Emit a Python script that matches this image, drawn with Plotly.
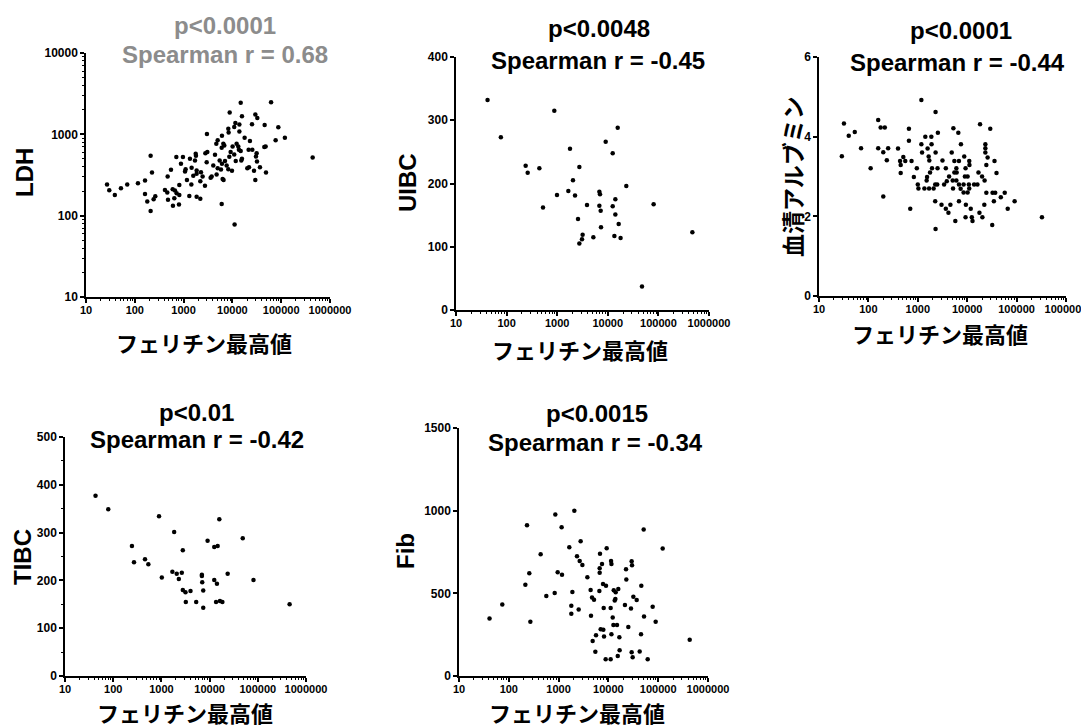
import plotly.graph_objects as go

W, H = 1089, 728
OFF = 8  # default page (body) margin of the html page

# ---------------- data ----------------
ferritin_ldh = [14800, 62000, 8800, 15700, 29500, 32400, 11500, 13900, 25200, 45800,
                8240, 10900, 13900, 87300, 3010, 6110, 8370, 17800, 22900, 76900,
                119000, 4990, 4680, 6520, 6820, 6030, 12200, 13200, 10100, 13600,
                14800, 21500, 25600, 48000, 45100, 31400, 9200, 8650, 10900, 11700,
                15200, 15700, 30400, 31900, 21900, 20200, 27700, 36700, 48800, 29500,
                441000, 211, 710, 970, 1350, 1770, 1790, 2790, 3060, 4400,
                5480, 7050, 6110, 7620, 8240, 9800, 5830, 4990, 4060, 2970,
                1710, 883, 1100, 1070, 1460, 1850, 1580, 1850, 2270, 2450,
                551, 471, 817, 1170, 1440, 2200, 2740, 3760, 3580, 4750,
                6310, 6600, 225, 162, 116, 70, 52, 27, 30, 39,
                162, 263, 243, 180, 211, 415, 463, 597, 665, 720,
                479, 645, 817, 605, 804, 1310, 1850, 2200, 6030, 11100]
ldh = [2440, 2480, 1850, 1670, 1750, 1590, 1380, 1320, 1330, 1300,
       1175, 1230, 1080, 1220, 1010, 960, 1050, 910, 826, 843,
       910, 843, 767, 767, 731, 684, 767, 711, 711, 646,
       622, 646, 646, 711, 697, 587, 605, 530, 566, 469,
       477, 500, 535, 463, 395, 384, 356, 395, 340, 275,
       520, 545, 525, 525, 500, 577, 545, 587, 605, 561,
       477, 469, 434, 414, 373, 356, 370, 384, 414, 455,
       477, 434, 373, 349, 387, 359, 309, 327, 343, 303,
       366, 303, 239, 275, 242, 265, 234, 303, 292, 321,
       283, 275, 340, 270, 251, 242, 217, 242, 206, 180,
       185, 173, 159, 149, 114, 207, 192, 211, 204, 189,
       157, 164, 180, 132, 137, 175, 171, 162, 139, 78]

ferritin_uibc = [42, 77, 877, 238, 261, 444, 524, 990, 1790, 1660,
                 2050, 2250, 2740, 2580, 2740, 3090, 3180, 3880, 5180, 6810,
                 7010, 6810, 7230, 7340, 9080, 12500, 12500, 14100, 14100, 13500,
                 15700, 16400, 17900, 23200, 47400, 80500, 469000]
uibc = [332, 273, 315, 228, 217, 224, 162, 182, 255, 188,
        205, 181, 226, 144, 105, 112, 119, 166, 115, 187,
        183, 165, 157, 131, 266, 248, 164, 175, 151, 117,
        288, 136, 114, 196, 37, 167, 123]

ferritin_alb = [1180, 2290, 32, 158, 177, 215, 53, 40, 661, 5250,
                6610, 18200, 29300, 2550, 1420, 1880, 661, 1180, 1900, 7470,
                23300, 23300, 23300, 25900, 35700, 24400, 39200, 29, 71, 158,
                200, 251, 236, 111, 398, 509, 437, 558, 747, 450,
                450, 200, 703, 1220, 1580, 1660, 1710, 2290, 955, 832,
                1940, 2510, 1770, 1540, 1510, 1000, 1030, 1360, 1690, 2090,
                2250, 2470, 2250, 3160, 3690, 4300, 4860, 5500, 6810, 8710,
                11000, 11100, 6030, 5500, 6120, 9260, 8980, 10200, 6030, 5090,
                3860, 3410, 6810, 8450, 5170, 7360, 10800, 13800, 16100, 11000,
                8450, 10200, 16900, 20000, 22500, 3020, 3690, 4170, 4570, 6810,
                9400, 11800, 5750, 9260, 12400, 12800, 17700, 20300, 22200, 24400,
                32600, 36900, 34700, 47900, 57500, 66100, 91200, 32100, 2290, 326000]
albumin = [4.92, 4.62, 4.33, 4.42, 4.23, 4.23, 4.12, 4.02, 4.20, 4.21,
           4.10, 4.31, 4.20, 4.10, 4.00, 4.00, 3.90, 3.81, 3.81, 3.81,
           3.81, 3.71, 3.60, 3.48, 3.39, 3.29, 3.09, 3.51, 3.71, 3.71,
           3.61, 3.71, 3.41, 3.21, 3.70, 3.49, 3.39, 3.39, 3.39, 3.29,
           3.09, 2.50, 2.19, 3.60, 3.70, 3.50, 3.40, 3.60, 3.21, 2.99,
           3.21, 3.21, 3.10, 2.99, 2.90, 2.80, 2.70, 2.70, 2.70, 2.70,
           2.80, 2.80, 2.38, 3.40, 3.21, 3.00, 3.60, 3.39, 3.39, 3.50,
           3.39, 3.29, 3.21, 3.10, 3.10, 3.21, 3.00, 3.00, 2.90, 2.90,
           2.88, 2.80, 2.80, 2.80, 2.70, 2.69, 2.80, 2.80, 2.80, 2.70,
           2.60, 2.60, 3.10, 3.00, 2.90, 2.29, 2.19, 2.09, 2.29, 2.38,
           2.29, 2.19, 1.88, 1.98, 1.98, 1.88, 2.09, 1.98, 2.29, 2.59,
           2.59, 2.59, 2.38, 2.48, 2.59, 2.19, 2.38, 1.78, 1.68, 1.98]

ferritin_tibc = [43, 79, 245, 270, 457, 536, 893, 1020, 1840, 1690,
                 2080, 2300, 2650, 2780, 2780, 3160, 3210, 4020, 5270, 6920,
                 6920, 7030, 7380, 7380, 9080, 12500, 14700, 12500, 14200, 13600,
                 15900, 16400, 18400, 23700, 48700, 81300, 457000]
tibc = [377, 349, 272, 238, 244, 234, 334, 206, 301, 218,
        214, 203, 216, 263, 180, 175, 155, 178, 155, 212,
        209, 196, 179, 143, 283, 270, 272, 201, 193, 155,
        328, 157, 155, 214, 288, 201, 150]

ferritin_fib = [2070, 859, 232, 1150, 51100, 2770, 1640, 9230, 123000, 436,
                6780, 2340, 2650, 3000, 11300, 11500, 7450, 6680, 6680, 29300,
                29800, 22600, 22900, 45800, 258, 958, 1170, 3780, 215, 74,
                41, 271, 567, 834, 1890, 1800, 1800, 2530, 4400, 4690,
                5140, 4470, 6580, 7800, 8950, 8040, 11100, 12800, 14000, 15800,
                13800, 13400, 31700, 37000, 21500, 28400, 77400, 51900, 88900, 12200,
                12600, 14900, 25100, 7000, 7910, 5640, 8170, 11500, 16600, 45200,
                4830, 5470, 16800, 15400, 8810, 11100, 29300, 30700, 42500, 61500,
                429000]
fib = [1000, 977, 912, 900, 886, 815, 779, 773, 771, 736,
       739, 724, 696, 672, 696, 678, 678, 651, 625, 694,
       670, 645, 583, 546, 621, 627, 613, 597, 552, 433,
       348, 328, 484, 502, 508, 425, 376, 402, 520, 475,
       461, 364, 514, 557, 546, 411, 411, 518, 506, 526,
       466, 457, 480, 460, 429, 409, 419, 360, 328, 354,
       308, 308, 297, 283, 279, 247, 239, 253, 235, 253,
       211, 146, 156, 121, 101, 101, 144, 113, 148, 101,
       219]

x_tick_vals = [10, 100, 1000, 10000, 100000, 1000000]
x_tick_text = ["10", "100", "1000", "10000", "100000", "1000000"]
ldh_tick_vals = [10, 100, 1000, 10000]
ldh_tick_text = ["10", "100", "1000", "10000"]

x_label = "フェリチン最高値"
y_labels = ["LDH", "UIBC", "血清アルブミン", "TIBC", "Fib"]
p_texts = ["p<0.0001", "p<0.0048", "p<0.0001", "p<0.01", "p<0.0015"]
r_texts = ["Spearman r = 0.68", "Spearman r = -0.45", "Spearman r = -0.44",
           "Spearman r = -0.42", "Spearman r = -0.34"]

# ---------------- layout geometry (screen pixels) ----------------
# plot boxes: x0, x1, ytop, ybottom
boxes = [(86, 330, 53, 297), (456, 709, 57, 310), (819, 1066, 57, 296),
         (65, 306, 437, 676), (459, 708, 428, 676)]
p_pos = [(225, 25), (599, 28), (961, 30), (196, 412), (597, 413)]
r_pos = [(225, 54), (598, 61), (957, 63), (197, 439), (595, 442)]
ylab_pos = [(25, 173), (407, 183), (792, 177), (22, 557), (405, 551)]
xlab_pos = [(204, 342), (580, 349), (940, 333), (185, 712), (577, 712)]
title_colors = ["#8c8c8c", "black", "black", "black", "black"]

FW, FH = W - OFF, H - OFF

def fx(px):
    return (px - OFF) / FW

def fy(py):
    return 1 - (py - OFF) / FH

series = [(ferritin_ldh, ldh), (ferritin_uibc, uibc), (ferritin_alb, albumin),
          (ferritin_tibc, tibc), (ferritin_fib, fib)]

fig = go.Figure()
for i, (xs, ys) in enumerate(series):
    sfx = "" if i == 0 else str(i + 1)
    fig.add_trace(go.Scatter(x=xs, y=ys, mode="markers", xaxis="x" + sfx, yaxis="y" + sfx,
                             marker=dict(color="black", size=4.5, line=dict(width=0)),
                             showlegend=False, hoverinfo="x+y"))

minor_log_x = [m * 10 ** k for k in range(1, 6) for m in range(2, 10)]
minor_log_y = [m * 10 ** k for k in range(1, 4) for m in range(2, 10)]

FONT = "Arial, Liberation Sans, sans-serif"
tick_font_x = dict(family=FONT, size=11, color="black", weight="bold")
tick_font_y = dict(family=FONT, size=12, color="black", weight="bold")

axis_common = dict(showline=True, linecolor="black", linewidth=1.5, ticks="outside",
                   ticklen=4, tickwidth=1.5, tickcolor="black", showgrid=False,
                   zeroline=False, mirror=False, automargin=False)

minor_style = dict(ticks="outside", ticklen=2.5, tickwidth=1, tickcolor="black", showgrid=False)

y_specs = [
    dict(type="log", range=[1, 4], tickmode="array", tickvals=ldh_tick_vals, ticktext=ldh_tick_text,
         minor=dict(minor_style, tickmode="array", tickvals=minor_log_y)),
    dict(type="linear", range=[0, 400], tickmode="linear", tick0=0, dtick=100),
    dict(type="linear", range=[0, 6], tickmode="linear", tick0=0, dtick=2),
    dict(type="linear", range=[0, 500], tickmode="linear", tick0=0, dtick=100,
         minor=dict(minor_style, tick0=0, dtick=50)),
    dict(type="linear", range=[0, 1500], tickmode="linear", tick0=0, dtick=500),
]

layout_axes = {}
for i, (x0, x1, yt, yb) in enumerate(boxes):
    sfx = "" if i == 0 else str(i + 1)
    layout_axes["xaxis" + sfx] = dict(
        axis_common, domain=[fx(x0), fx(x1)], anchor="y" + sfx, type="log", range=[1, 6],
        tickmode="array", tickvals=x_tick_vals, ticktext=x_tick_text, tickfont=tick_font_x,
        ticklabelstandoff=-2,
        minor=dict(minor_style, tickmode="array", tickvals=minor_log_x))
    layout_axes["yaxis" + sfx] = dict(axis_common, domain=[fy(yb), fy(yt)], anchor="x" + sfx,
                                      tickfont=tick_font_y, **y_specs[i])

annotations = []
for i in range(5):
    for txt, (px, py) in ((p_texts[i], p_pos[i]), (r_texts[i], r_pos[i])):
        annotations.append(dict(text="<b>" + txt + "</b>", x=fx(px), y=fy(py), xref="paper", yref="paper",
                                xanchor="center", yanchor="middle", showarrow=False,
                                font=dict(family=FONT, size=24, color=title_colors[i])))
    yl = y_labels[i]
    cjk = any(ord(c) > 0x3000 for c in yl)
    annotations.append(dict(text="<b>" + yl + "</b>", x=fx(ylab_pos[i][0]), y=fy(ylab_pos[i][1]),
                            xref="paper", yref="paper", xanchor="center", yanchor="middle",
                            textangle=-90, showarrow=False,
                            font=dict(family=("Noto Sans CJK JP" if cjk else FONT),
                                      size=23 if cjk else 24, color="black")))
    annotations.append(dict(text="<b>" + x_label + "</b>", x=fx(xlab_pos[i][0]), y=fy(xlab_pos[i][1]),
                            xref="paper", yref="paper", xanchor="center", yanchor="middle",
                            showarrow=False,
                            font=dict(family="Noto Sans CJK JP", size=22, color="black")))

fig.update_layout(template="none", width=FW, height=FH, margin=dict(l=0, r=0, t=0, b=0, pad=0),
                  paper_bgcolor="white", plot_bgcolor="white", font=dict(family=FONT, color="black"),
                  annotations=annotations, **layout_axes)

fig.write_html("out.html")
